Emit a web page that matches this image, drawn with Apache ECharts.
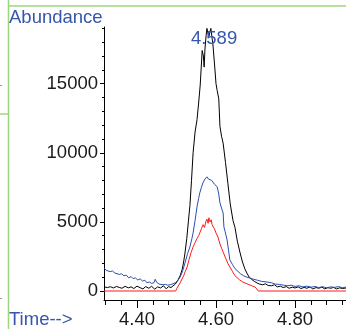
<!DOCTYPE html>
<html>
<head>
<meta charset="utf-8">
<script src="https://cdn.jsdelivr.net/npm/echarts@6/dist/echarts.min.js"></script>
<style>
html,body{margin:0;padding:0;background:#fff;}
#c{width:346px;height:329px;}
</style>
</head>
<body>
<div id="c"></div>
<script>
// ---- data ----
var blackTime = [4.317,4.325,4.333,4.340,4.348,4.355,4.362,4.370,4.378,4.385,4.392,4.400,4.408,4.415,4.422,4.430,4.437,4.445,4.452,4.460,4.467,4.474,4.480,4.486,4.491,4.497,4.504,4.509,4.514,4.518,4.5215,4.526,4.530,4.534,4.538,4.542,4.547,4.552,4.556,4.560,4.565,4.568,4.570,4.572,4.575,4.577,4.579,4.582,4.585,4.587,4.590,4.592,4.596,4.600,4.603,4.607,4.610,4.614,4.618,4.624,4.630,4.636,4.643,4.648,4.654,4.661,4.667,4.673,4.678,4.684,4.690,4.697,4.704,4.710,4.718,4.725,4.732,4.740,4.748,4.755,4.763,4.770,4.778,4.785,4.793,4.800,4.808,4.815,4.823,4.830,4.838,4.845,4.853,4.860,4.868,4.875,4.883,4.890,4.898,4.905,4.913,4.920,4.929];
var blackAbund = [300,250,310,220,330,260,200,340,230,300,180,350,240,150,320,200,340,130,300,220,380,160,320,250,350,500,800,1100,1520,2100,2750,3800,5000,6200,8000,10000,11500,12400,13600,14900,17400,17000,16200,17500,18500,19000,18700,18400,18800,19000,18300,17900,16500,15000,14500,13900,11900,11200,10700,9300,7800,6300,5100,4600,3600,2750,2100,1600,1300,1000,850,700,580,500,450,520,400,380,450,300,350,250,320,200,280,220,300,180,260,200,300,150,250,200,280,160,240,200,260,150,230,180,220];

var blueTime = [4.317,4.322,4.327,4.332,4.338,4.344,4.349,4.355,4.361,4.367,4.373,4.379,4.385,4.390,4.396,4.402,4.408,4.414,4.420,4.425,4.431,4.437,4.443,4.446,4.450,4.456,4.461,4.466,4.472,4.478,4.484,4.491,4.497,4.503,4.509,4.515,4.5215,4.528,4.534,4.539,4.542,4.547,4.552,4.556,4.559,4.563,4.567,4.572,4.577,4.581,4.585,4.589,4.592,4.597,4.603,4.607,4.610,4.615,4.618,4.620,4.623,4.628,4.632,4.635,4.642,4.648,4.653,4.662,4.670,4.678,4.686,4.695,4.705,4.715,4.729,4.740,4.750,4.760,4.770,4.780,4.790,4.800,4.810,4.820,4.830,4.840,4.850,4.860,4.870,4.880,4.890,4.900,4.910,4.920,4.929];
var blueAbund = [1650,1500,1600,1400,1450,1300,1350,1200,1250,1100,1150,950,1050,900,950,800,880,720,780,600,650,550,600,850,620,500,540,450,480,420,460,520,600,750,1000,1400,2030,2700,3190,3800,4200,5100,6100,6700,7100,7500,7830,8100,8260,8100,8190,8000,7900,7700,7540,7000,6380,5900,5650,4640,4300,3700,2900,2250,1900,1620,1520,1250,1100,1000,940,850,780,700,650,600,500,480,430,380,420,330,380,300,350,270,330,250,310,230,300,260,320,240,280];

var redTime = [4.3165,4.498,4.501,4.505,4.509,4.514,4.518,4.522,4.527,4.532,4.537,4.542,4.547,4.552,4.556,4.559,4.563,4.567,4.571,4.574,4.577,4.580,4.582,4.585,4.588,4.590,4.592,4.596,4.600,4.605,4.610,4.614,4.618,4.624,4.630,4.635,4.642,4.648,4.653,4.660,4.668,4.676,4.686,4.693,4.699,4.702,4.704,4.707,4.929];
var redAbund = [0,0,200,150,580,700,1100,1400,1740,2300,2800,3190,3500,3800,4000,4200,4500,4800,4600,5000,5200,4900,5300,5000,5150,4800,4930,4500,4200,3900,3400,3100,2970,2400,2000,1740,1400,1100,1000,800,650,550,430,350,290,350,200,0,0];

var xLabelValues = [4.40, 4.60, 4.80];
var xMinorTickValues = [4.32,4.36,4.40,4.44,4.48,4.52,4.56,4.60,4.64,4.68,4.72,4.76,4.80,4.84,4.88,4.92];
var yLabelValues = [0, 5000, 10000, 15000];
var yMinorTickValues = [0,1000,2000,3000,4000,5000,6000,7000,8000,9000,10000,11000,12000,13000,14000,15000,16000,17000,18000,19000];
var peakLabel = '4.589';
var peakTime = 4.595, peakLabelAbund = 18260;

function pairs(t, v) { return t.map(function (x, i) { return [x, v[i]]; }); }

var FONT = 'Liberation Sans, Arial, sans-serif';
var BLUE = '#3656ad';
var GREEN = '#9dd67e';

var chart = echarts.init(document.getElementById('c'), null, {renderer: 'canvas'});
var xBase = {type: 'value', min: 4.3165, max: 4.929, gridIndex: 0, position: 'bottom', splitLine: {show: false}};
var yBase = {type: 'value', min: -650, max: 19100, gridIndex: 0, position: 'left', splitLine: {show: false}};
chart.setOption({
  animation: false,
  backgroundColor: '#fff',
  grid: {left: 104, right: 0, top: 27, bottom: 29, containLabel: false, outerBoundsMode: 'none'},
  title: [
    {text: 'Abundance', left: 4, top: 3, padding: 5, textStyle: {color: BLUE, fontFamily: FONT, fontSize: 18.5, fontWeight: 'normal'}},
    {text: 'Time-->', left: 4, top: 305, padding: 5, textStyle: {color: BLUE, fontFamily: FONT, fontSize: 18.5, fontWeight: 'normal'}}
  ],
  xAxis: [
    Object.assign({}, xBase, {
      axisLine: {show: true, onZero: false, lineStyle: {color: '#000', width: 1}},
      axisTick: {show: true, inside: false, length: 8, customValues: xLabelValues, lineStyle: {color: '#000'}},
      axisLabel: {show: true, customValues: xLabelValues, margin: 10, color: '#1a1a1a', fontFamily: FONT, fontSize: 18.5,
        formatter: function (v) { return v.toFixed(2); }}
    }),
    Object.assign({}, xBase, {
      axisLine: {show: false, onZero: false},
      axisTick: {show: true, inside: false, length: 5, customValues: xMinorTickValues, lineStyle: {color: '#000'}},
      axisLabel: {show: false}
    })
  ],
  yAxis: [
    Object.assign({}, yBase, {
      axisLine: {show: true, onZero: false, lineStyle: {color: '#000', width: 1}},
      axisTick: {show: true, inside: false, length: 4, customValues: yLabelValues, lineStyle: {color: '#000'}},
      axisLabel: {show: true, customValues: yLabelValues, margin: 6, color: '#1a1a1a', fontFamily: FONT, fontSize: 18.5,
        formatter: function (v) { return String(Math.round(v)); }}
    }),
    Object.assign({}, yBase, {
      axisLine: {show: false, onZero: false},
      axisTick: {show: true, inside: false, length: 2, customValues: yMinorTickValues, lineStyle: {color: '#000'}},
      axisLabel: {show: false}
    })
  ],
  series: [
    {type: 'line', name: 'black', xAxisIndex: 0, yAxisIndex: 0, data: pairs(blackTime, blackAbund), symbol: 'none', clip: false,
      lineStyle: {color: '#000', width: 1},
      markPoint: {symbol: 'circle', symbolSize: 0, silent: true,
        data: [{coord: [peakTime, peakLabelAbund]}],
        label: {show: true, position: 'inside', formatter: peakLabel, color: BLUE, fontFamily: FONT, fontSize: 18.5}}},
    {type: 'line', name: 'blue', xAxisIndex: 0, yAxisIndex: 0, data: pairs(blueTime, blueAbund), symbol: 'none', clip: false,
      lineStyle: {color: '#2b4fb0', width: 1}},
    {type: 'line', name: 'red', xAxisIndex: 0, yAxisIndex: 0, data: pairs(redTime, redAbund), symbol: 'none', clip: false,
      lineStyle: {color: '#ff1a1a', width: 1}}
  ],
  graphic: [
    {type: 'line', shape: {x1: 8.5, y1: 6, x2: 346, y2: 6}, style: {stroke: GREEN, lineWidth: 1.5}, silent: true},
    {type: 'line', shape: {x1: 8.5, y1: 0, x2: 8.5, y2: 329}, style: {stroke: GREEN, lineWidth: 1.5}, silent: true},
    {type: 'line', shape: {x1: 0, y1: 114, x2: 8.5, y2: 114}, style: {stroke: GREEN, lineWidth: 1.5}, silent: true},
    {type: 'line', shape: {x1: 0, y1: 85.5, x2: 2, y2: 85.5}, style: {stroke: '#999', lineWidth: 1}, silent: true},
    {type: 'line', shape: {x1: 0, y1: 298.5, x2: 2, y2: 298.5}, style: {stroke: '#999', lineWidth: 1}, silent: true}
  ]
});
</script>
</body>
</html>
